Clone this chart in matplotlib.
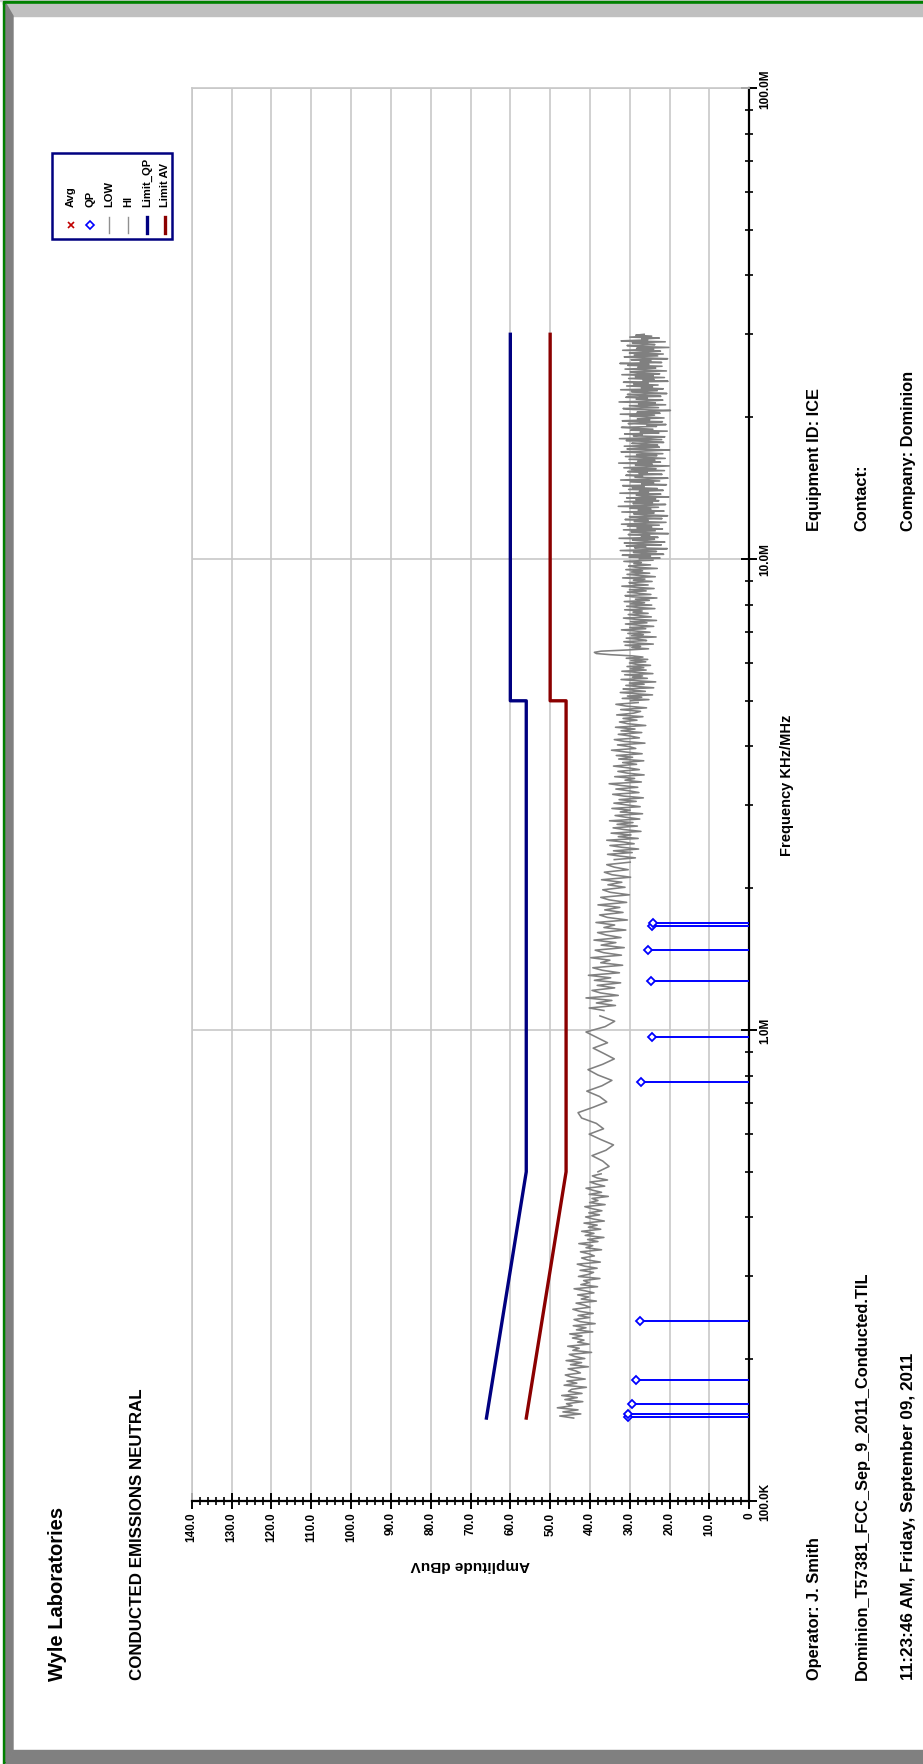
import numpy as np
import matplotlib

matplotlib.use('agg')
import matplotlib.pyplot as plt
from matplotlib.patches import Rectangle, Polygon
from matplotlib.lines import Line2D
from matplotlib.ticker import LogLocator, NullFormatter, FixedLocator

plt.rcParams['font.family'] = ['Liberation Sans', 'DejaVu Sans']

W, H = 923, 1765

# ---- data -------------------------------------------------------------
# amplitude axis (dBuV) and frequency axis (MHz)
amp_ticks = [0, 10, 20, 30, 40, 50, 60, 70, 80, 90, 100, 110, 120, 130, 140]
amp_labels = ['0', '10.0', '20.0', '30.0', '40.0', '50.0', '60.0', '70.0',
              '80.0', '90.0', '100.0', '110.0', '120.0', '130.0', '140.0']
freq_ticks = [0.1, 1.0, 10.0, 100.0]
freq_labels = ['100.0K', '1.0M', '10.0M', '100.0M']

# limit lines (MHz, dBuV)
limit_freq = [0.15, 0.5, 5.0, 5.0, 30.0]
limit_qp = [66.0, 56.0, 56.0, 60.0, 60.0]
limit_av = [56.0, 46.0, 46.0, 50.0, 50.0]

# quasi-peak readings
qp_freq = [0.1506, 0.1528, 0.161, 0.181, 0.241, 0.776, 0.968, 1.27, 1.48, 1.66, 1.69]
qp_level = [30.4, 30.4, 29.4, 28.4, 27.4, 27.3, 24.5, 24.8, 25.4, 24.5, 24.2]

# sweep band edges (MHz) and the scan trace per band (dBuV)
band_edges = [0.15, 0.5, 1.1, 2.3, 5.0, 10.0, 30.0]
scan_a = [
    44.1, 47.6, 42.3, 46.8, 43.0, 48.2, 44.5, 45.9, 41.8, 46.3,
    43.2, 47.1, 42.0, 45.4, 44.6, 40.9, 46.5, 43.3, 45.8, 41.2,
    44.7, 46.2, 42.4, 43.6, 45.5, 40.4, 44.9, 42.1, 46.0, 41.3,
    43.8, 45.2, 39.6, 44.3, 42.7, 45.6, 40.2, 43.1, 41.5, 44.4,
    42.0, 45.1, 39.3, 43.4, 41.0, 44.2, 38.7, 42.5, 44.0, 40.1,
    43.0, 39.2, 42.6, 44.3, 40.0, 41.4, 43.5, 38.4, 42.2, 40.3,
    43.1, 39.0, 41.2, 44.0, 38.1, 42.3, 40.2, 41.6, 37.5, 42.9,
    40.4, 39.1, 42.5, 38.2, 41.3, 43.2, 37.4, 40.5, 42.1, 38.9,
    40.2, 42.4, 37.1, 41.0, 39.3, 42.8, 38.0, 40.6, 36.5, 41.2,
    39.0, 42.1, 37.3, 40.4, 38.2, 41.5, 36.4, 39.2, 41.1, 37.6,
    40.3, 37.0, 39.4, 41.3, 36.2, 40.1, 38.0, 39.5, 35.4, 40.2,
    37.1, 39.3, 41.0, 36.3, 38.4, 40.0, 35.6, 38.2, 39.4, 37.2,
]
scan_b = [
    38.0, 35.2, 36.8, 39.5, 36.0, 34.1, 37.3, 40.2, 36.6, 38.4,
    42.1, 43.0, 39.2, 35.8, 37.6, 40.8, 37.0, 34.5, 38.0, 40.5,
    36.8, 33.9, 36.5, 39.2, 35.6, 38.3, 41.0, 36.2, 33.8, 37.5,
]
scan_c = [
    36.5, 40.2, 33.6, 38.4, 34.5, 41.0, 32.9, 37.4, 39.5, 33.8,
    38.2, 32.3, 38.9, 34.8, 40.4, 32.6, 36.9, 39.3, 31.8, 37.3,
    35.0, 39.8, 32.1, 36.6, 38.7, 31.4, 37.2, 33.5, 39.0, 32.2,
    35.9, 38.1, 31.0, 36.5, 33.8, 38.5, 30.6, 35.6, 37.6, 31.7,
    36.3, 32.5, 38.0, 30.8, 35.2, 37.3, 30.1, 34.9, 36.8, 31.2,
    35.5, 32.0, 37.1, 29.8, 34.5, 36.4, 30.4, 33.9, 35.8, 29.9,
]
scan_d = [
    33.9, 28.6, 32.5, 35.6, 29.4, 34.1, 27.8, 32.0, 35.0, 28.9,
    31.6, 35.8, 27.9, 32.9, 29.7, 34.7, 27.2, 31.3, 34.2, 28.1,
    33.2, 29.2, 35.1, 27.5, 31.0, 33.7, 26.8, 32.4, 29.9, 34.5,
    27.4, 30.8, 34.0, 28.4, 32.7, 26.6, 31.5, 34.3, 27.7, 30.2,
    33.5, 28.0, 32.1, 35.2, 27.1, 31.2, 28.8, 33.8, 26.4, 30.6,
    33.0, 27.6, 30.4, 34.1, 28.3, 31.8, 26.5, 32.8, 29.3, 33.4,
    26.9, 31.1, 34.6, 28.5, 30.1, 33.1, 26.2, 31.4, 33.9, 27.6,
    29.8, 32.9, 27.0, 32.2, 28.7, 33.6, 26.0, 30.5, 32.6, 28.2,
    31.7, 26.7, 33.3, 29.0, 27.3, 32.3, 25.8, 30.9, 33.5, 27.9,
]
scan_e = [
    29.8, 25.2, 31.9, 27.0, 30.6, 24.3, 28.8, 32.4, 26.1, 29.3,
    31.7, 24.0, 28.0, 31.0, 26.4, 30.1, 23.5, 28.5, 32.2, 25.6,
    29.4, 26.8, 31.3, 24.2, 27.9, 32.0, 25.9, 29.9, 26.5, 30.7,
    24.8, 28.6, 30.1, 26.0, 29.7, 25.5, 30.9, 26.7, 29.3, 34.8,
    38.4, 38.9, 37.2, 30.6, 25.3, 29.5, 27.3, 31.2, 24.1, 28.9,
    31.5, 25.8, 27.7, 30.9, 23.4, 29.6, 26.6, 30.5, 24.9, 28.4,
    32.1, 26.0, 30.0, 24.0, 27.8, 31.1, 25.7, 29.8, 23.3, 28.7,
    31.6, 24.6, 27.5, 30.4, 25.4, 29.2, 26.9, 31.3, 23.7, 28.1,
    30.8, 24.5, 29.9, 26.3, 31.4, 25.1, 28.6, 23.2, 29.4, 31.2,
    24.7, 27.9, 30.6, 25.9, 30.1, 23.9, 28.3, 32.0, 25.4, 28.9,
    30.2, 24.4, 29.1, 26.2, 31.8, 23.6, 27.4, 30.7, 25.0, 29.7,
    26.8, 31.0, 23.1, 28.5, 30.3, 24.8, 29.0, 27.1, 31.5, 24.2,
]
scan_f = [
    27.6, 22.4, 30.2, 24.8, 31.9, 21.5, 26.7, 29.1, 23.3, 32.4,
    25.2, 20.6, 28.8, 26.0, 30.9, 22.1, 27.8, 31.4, 21.2, 25.7,
    29.3, 23.8, 32.7, 22.9, 27.1, 25.0, 30.4, 20.3, 26.5, 29.7,
    23.6, 31.6, 21.8, 28.2, 24.5, 30.6, 22.6, 32.1, 26.3, 20.9,
    28.9, 25.4, 31.2, 21.9, 27.3, 30.1, 20.5, 26.1, 29.0, 23.9,
    32.0, 21.4, 27.9, 24.7, 30.0, 22.8, 32.9, 25.8, 21.0, 29.2,
    24.3, 31.3, 22.7, 28.5, 23.5, 30.8, 20.2, 26.9, 28.4, 22.2,
    32.5, 25.3, 27.6, 21.6, 30.3, 23.1, 29.4, 26.4, 31.8, 20.8,
    27.0, 24.0, 29.9, 22.5, 32.3, 25.1, 20.4, 28.7, 26.8, 31.0,
    21.9, 27.7, 25.6, 30.5, 21.3, 29.6, 23.4, 31.5, 25.9, 20.1,
    28.6, 24.4, 32.8, 22.3, 28.0, 23.7, 30.2, 21.1, 26.2, 31.1,
    23.2, 28.3, 21.7, 27.5, 32.2, 24.9, 20.0, 30.7, 27.2, 22.6,
    31.4, 23.0, 26.6, 29.5, 21.5, 25.5, 30.9, 22.0, 32.6, 24.6,
    21.2, 29.1, 26.9, 31.3, 22.7, 27.4, 20.6, 29.8, 24.2, 28.8,
    32.1, 23.3, 25.7, 20.9, 30.4, 27.0, 21.8, 31.9, 25.0, 28.1,
    21.4, 25.9, 30.0, 23.8, 32.4, 22.4, 28.2, 24.8, 19.8, 29.3,
    31.7, 22.8, 26.4, 30.1, 21.0, 27.8, 23.6, 32.7, 25.3, 21.7,
    28.4, 25.6, 31.0, 22.2, 27.3, 30.6, 20.7, 26.0, 29.6, 23.1,
    32.3, 21.6, 27.1, 24.3, 30.8, 22.9, 29.0, 25.4, 31.6, 20.4,
    26.7, 23.9, 30.3, 21.3, 28.6, 24.1, 32.0, 22.5, 27.9, 29.9,
    20.8, 26.3, 31.2, 23.5, 28.0, 21.9, 30.5, 25.2, 32.5, 22.0,
    27.4, 24.7, 29.7, 20.5, 26.8, 31.4, 23.0, 28.9, 21.6, 30.1,
    25.8, 22.3, 31.8, 24.0, 28.3, 20.2, 27.6, 30.7, 23.7, 26.1,
    29.4, 21.1, 32.2, 25.5, 27.0, 22.6, 30.0, 24.5, 28.5, 26.4,
]
scan_bands = [scan_a, scan_b, scan_c, scan_d, scan_e, scan_f]

legend_names = ['Avg', 'QP', 'LOW', 'HI', 'Limit_QP', 'Limit AV']

# ---- helpers (pixel coords from top-left of the page) ------------------
def fx(x):
    return x / W


def fy(y):
    return 1 - y / H


def vtext(x, y, s, size, weight='bold', **kw):
    fig.text(fx(x), fy(y), s, rotation=90, ha='center', va='bottom',
             fontsize=size, fontweight=weight, **kw)


fig = plt.figure(figsize=(W / 100, H / 100), dpi=100)

# page frame
fig.patches.append(Rectangle((0, fy(2)), 1, 2 / H, color='#d0d0d0', transform=fig.transFigure))
fig.patches.append(Rectangle((fx(3), fy(5)), 1, 3 / H, color='#008000', transform=fig.transFigure))
fig.patches.append(Rectangle((fx(3), 0), 3 / W, fy(3), color='#008000', transform=fig.transFigure))
fig.patches.append(Polygon([(fx(6), fy(5)), (1, fy(5)), (1, fy(17)), (fx(13), fy(17))],
                           closed=True, color='#c0c0c0', transform=fig.transFigure))
fig.patches.append(Polygon([(fx(6), fy(5)), (fx(13), fy(17)), (fx(13), fy(1751)), (fx(6), fy(1763))],
                           closed=True, color='#808080', transform=fig.transFigure))
fig.patches.append(Polygon([(fx(13), fy(1751)), (1, fy(1751)), (1, 0), (fx(5), 0)],
                           closed=True, color='#808080', transform=fig.transFigure))

# ---- chart (amplitude runs right->left, frequency bottom->top) --------
ax = fig.add_axes([fx(191.7), fy(1502), (749.3 - 191.7) / W, (1502 - 89) / H])
ax.set_yscale('log')
ax.set_xlim(140, 0)
ax.set_ylim(0.1, 100)

for k in ['left', 'top']:
    ax.spines[k].set_color('#c8c8c8')
    ax.spines[k].set_linewidth(1.2)
for k in ['bottom', 'right']:
    ax.spines[k].set_color('black')
    ax.spines[k].set_linewidth(1.6)

ax.set_xticks(amp_ticks)
ax.set_xticklabels(amp_labels)
ax.xaxis.set_minor_locator(FixedLocator(np.arange(0, 141, 2)))
ax.yaxis.tick_right()
ax.set_yticks(freq_ticks)
ax.set_yticklabels(freq_labels)
ax.yaxis.set_minor_locator(LogLocator(base=10, subs=np.arange(2, 10)))
ax.yaxis.set_minor_formatter(NullFormatter())

ax.tick_params(axis='both', which='major', direction='inout', length=11, width=1.4,
               labelsize=8.5, pad=2, colors='black')
ax.tick_params(axis='both', which='minor', direction='inout', length=6, width=1.2)
ax.tick_params(axis='x', labelrotation=90)
ax.tick_params(axis='y', labelrotation=90)
for t in ax.get_xticklabels() + ax.get_yticklabels():
    t.set_fontweight('bold')
for t in ax.get_yticklabels():
    t.set_va('center')

ax.grid(True, which='major', color='#c8c8c8', lw=1.2)
ax.set_axisbelow(True)

# scan trace
for i, vals in enumerate(scan_bands):
    last = i == len(scan_bands) - 1
    f = np.geomspace(band_edges[i], band_edges[i + 1], len(vals), endpoint=last)
    ax.plot(vals, f, color='#808080', lw=1.15, zorder=2)

ax.plot(limit_qp, limit_freq, color='#000080', lw=2.4, zorder=3)
ax.plot(limit_av, limit_freq, color='#8b0000', lw=2.4, zorder=3)

ax.hlines(qp_freq, 0, qp_level, color='#0000ff', lw=1.4, zorder=4)
ax.plot(qp_level, qp_freq, 'D', ms=4.2, mfc='white', mec='#0000ff', mew=1.3,
        ls='none', zorder=5, clip_on=False)

# ---- legend (drawn by hand, rotated like the page) ---------------------
fig.patches.append(Rectangle((fx(52), fy(240)), (172 - 52) / W, (240 - 154) / H, fill=False,
                             ec='#000080', lw=1.8, transform=fig.transFigure))
cols = [71, 90, 109, 128, 147, 165]
for x, name in zip(cols, legend_names):
    vtext(x, 207, name, 8)
fig.add_artist(Line2D([fx(cols[0])], [fy(226)], marker='x', color='#c00000', ms=5, mew=1.2,
                      transform=fig.transFigure))
fig.add_artist(Line2D([fx(cols[1])], [fy(226)], marker='D', mfc='white', mec='#0000ff', ms=4,
                      mew=1.2, transform=fig.transFigure))
seg = [fy(218), fy(234)]
fig.add_artist(Line2D([fx(cols[2])] * 2, seg, color='#909090', lw=1.0, transform=fig.transFigure))
fig.add_artist(Line2D([fx(cols[3])] * 2, seg, color='#909090', lw=1.0, transform=fig.transFigure))
fig.add_artist(Line2D([fx(cols[4])] * 2, seg, color='#000080', lw=2.4, transform=fig.transFigure))
fig.add_artist(Line2D([fx(cols[5])] * 2, seg, color='#8b0000', lw=2.4, transform=fig.transFigure))

# ---- page texts ---------------------------------------------------------
vtext(58, 1681, 'Wyle Laboratories', 14.5)
vtext(138, 1680, 'CONDUCTED EMISSIONS NEUTRAL', 12.2)
vtext(815, 1680, 'Operator: J. Smith', 11.8)
vtext(862, 1680, 'Dominion_T57381_FCC_Sep_9_2011_Conducted.TIL', 11.8)
vtext(909, 1680, '11:23:46 AM, Friday, September 09, 2011', 12.3)
vtext(815, 531, 'Equipment ID: ICE', 11.8)
vtext(862, 531, 'Contact:', 11.8)
vtext(909, 531, 'Company: Dominion', 11.8)

fig.text(fx(787), fy(785), 'Frequency KHz/MHz', rotation=90, ha='center', va='center',
         fontsize=10.5, fontweight='bold')
fig.text(fx(470), fy(1565), 'Amplitude dBuV', rotation=180, ha='center', va='center',
         fontsize=11, fontweight='bold')

fig.savefig('out.png', dpi=100)
